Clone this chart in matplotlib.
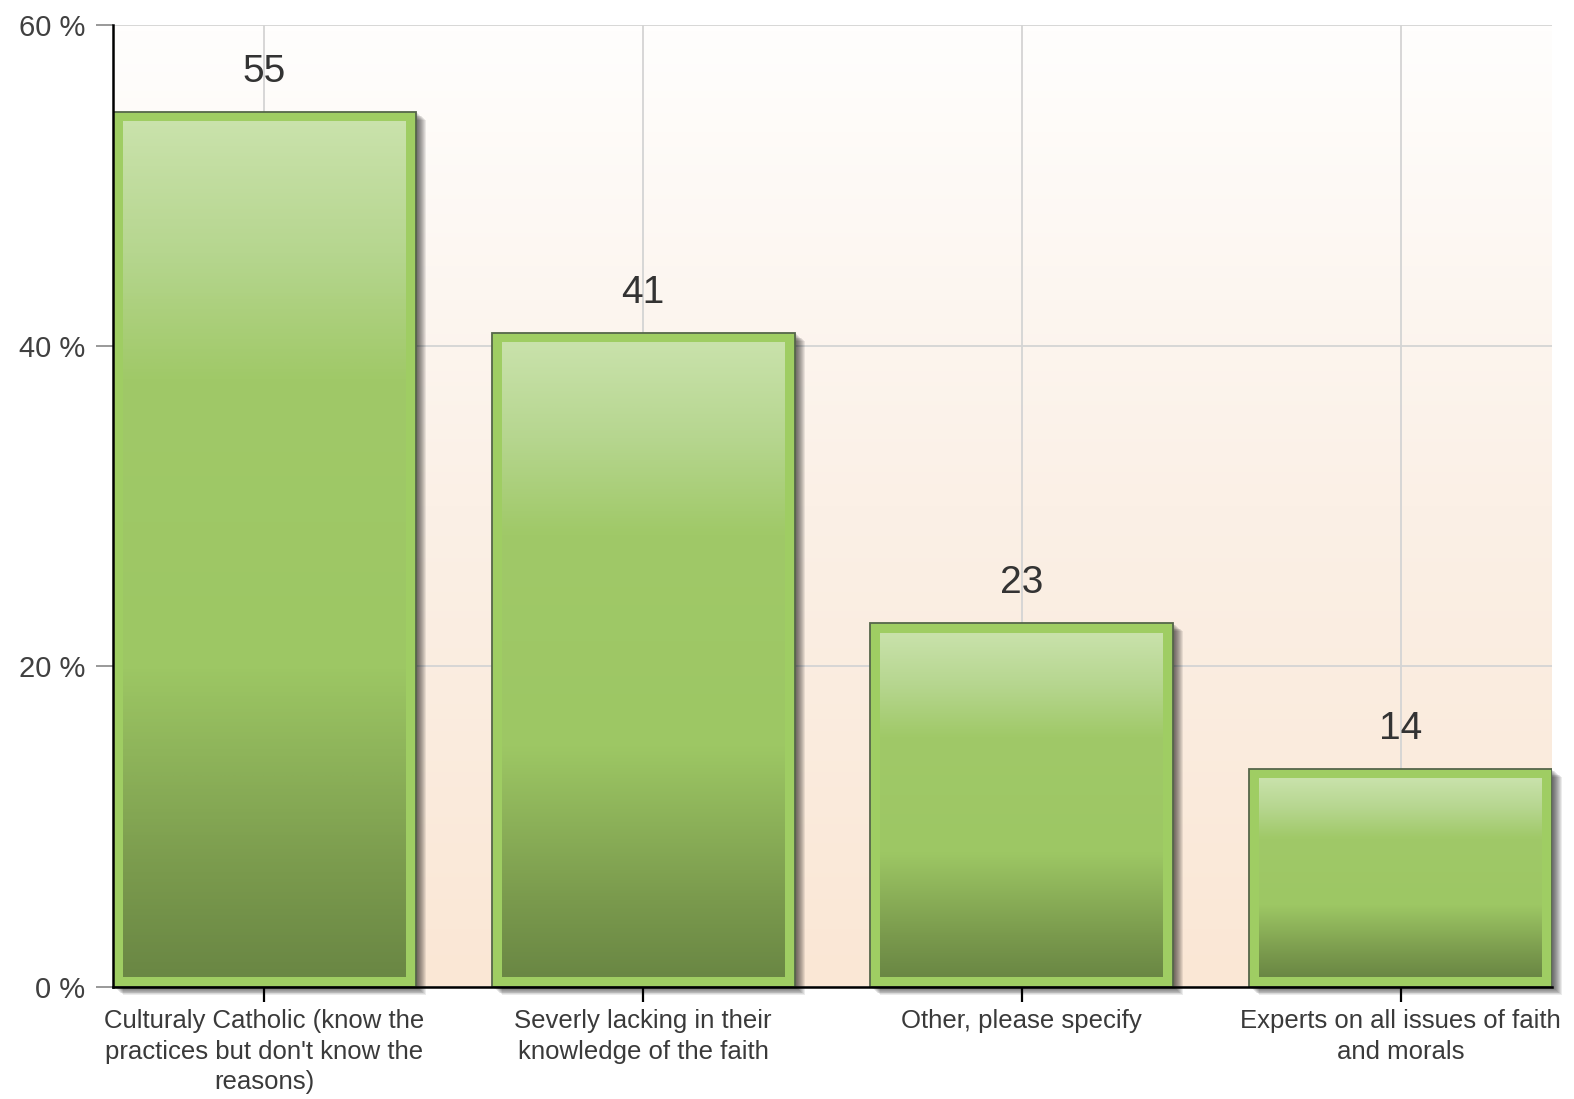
import numpy as np
import matplotlib
matplotlib.use("Agg")
import matplotlib.pyplot as plt
from matplotlib.colors import LinearSegmentedColormap
from matplotlib.patches import Rectangle
from matplotlib.transforms import offset_copy

categories = [
    "Culturaly Catholic (know the\npractices but don't know the\nreasons)",
    "Severly lacking in their\nknowledge of the faith",
    "Other, please specify",
    "Experts on all issues of faith\nand morals",
]
values = [54.6, 40.8, 22.7, 13.6]
value_labels = ["55", "41", "23", "14"]
yticks = [0, 20, 40, 60]
ytick_labels = ["0 %", "20 %", "40 %", "60 %"]

plt.rcParams['font.family'] = ['Liberation Sans', 'DejaVu Sans']

W, H = 1574, 1099
fig = plt.figure(figsize=(W / 100, H / 100), dpi=100)
fig.patch.set_facecolor('white')
ax = fig.add_axes([113 / W, 1 - 987 / H, 1439 / W, 962 / H])

x = np.arange(len(categories))
width = 0.8
xlo, xhi = -width / 2, len(categories) - 1 + width / 2
ylo, yhi = yticks[0], yticks[-1]

# background gradient
bg = LinearSegmentedColormap.from_list('bg', ['#fae7d5', '#fbf0e6', '#fffefd'])
grad = np.linspace(0, 1, 256).reshape(-1, 1)
ax.imshow(grad, cmap=bg, origin='lower', extent=(xlo, xhi, ylo, yhi),
          aspect='auto', zorder=0, interpolation='bicubic')

ax.set_xlim(xlo, xhi)
ax.set_ylim(ylo, yhi)

bbox = ax.get_window_extent()
sx = bbox.width / (xhi - xlo)
sy = bbox.height / (yhi - ylo)
ix, iy = 10 / sx, 10 / sy

bar_cmap = LinearSegmentedColormap.from_list(
    'bar', [(0.0, '#6a8744'), (0.12, '#7a9a4d'), (0.36, '#9dc764'),
            (0.70, '#a0c968'), (0.85, '#b6d68f'), (1.0, '#c9e2ab')])

for xi, v, lbl in zip(x, values, value_labels):
    # soft shadow
    for k in range(1, 11):
        tr = offset_copy(ax.transData, fig=fig, x=k, y=-k * 0.8, units='dots')
        ax.add_patch(Rectangle((xi - width / 2, ylo), width, v, transform=tr,
                               fc='black', ec='none', alpha=0.08,
                               clip_on=False, zorder=1.5))
    ax.add_patch(Rectangle((xi - width / 2, ylo), width, v, fc='#9fcd63',
                           ec='#55664a', lw=1.3, zorder=3))
    ax.imshow(grad, cmap=bar_cmap, origin='lower',
              extent=(xi - width / 2 + ix, xi + width / 2 - ix, ylo + iy, v - iy),
              aspect='auto', zorder=3.5, interpolation='bicubic')
    ax.annotate(lbl, (xi, v), xytext=(0, 30 * 0.72), textcoords='offset points',
                ha='center', va='baseline', fontsize=28, color='#333333', zorder=5)

ax.set_xlim(xlo, xhi)
ax.set_ylim(ylo, yhi)

ax.set_axisbelow(True)
ax.grid(True, color='#d4d4d4', lw=1.3)

ax.set_xticks(x)
ax.set_xticklabels(categories, fontsize=18.5, color='#3a3a3a', linespacing=1.34)
ax.set_yticks(yticks)
ax.set_yticklabels(ytick_labels, fontsize=21, color='#404040')
ax.tick_params(axis='x', length=11, width=1.6, color='black', pad=5)
ax.tick_params(axis='y', length=12, width=1.2, color='#888888', pad=8)

for s in ('top', 'right'):
    ax.spines[s].set_visible(False)
for s in ('left', 'bottom'):
    ax.spines[s].set_color('black')
    ax.spines[s].set_linewidth(1.8)
    ax.spines[s].set_zorder(6)

fig.savefig('out.png', dpi=100, facecolor='white')
